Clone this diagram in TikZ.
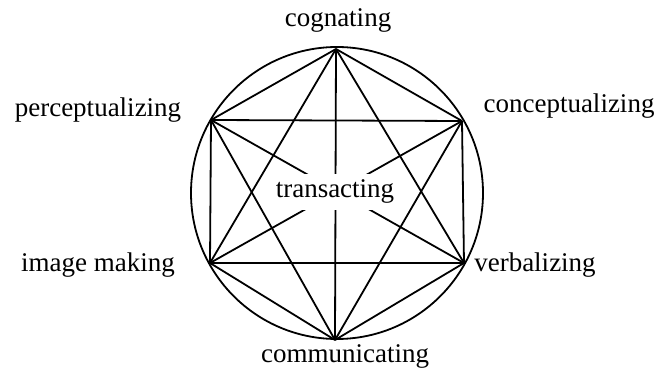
\documentclass[tikz,border=0pt]{standalone}
\usepackage{fontspec}
\setmainfont{Liberation Serif}
\begin{document}
\begin{tikzpicture}[x=0.5pt,y=-0.5pt,
  lbl/.style={font=\fontsize{13.5}{16}\selectfont, inner sep=0pt, anchor=base},
  edge/.style={line width=0.9pt, line join=round},
  ring/.style={line width=0.9pt}]
\useasboundingbox (0,0) rectangle (655,374);
% vertices
\coordinate (T) at (336,49);
\coordinate (B) at (335,340);
\coordinate (UL) at (211,120);
\coordinate (UR) at (462,121);
\coordinate (LL) at (210,263);
\coordinate (LR) at (464,263);
\coordinate (C) at (337,193);
% circle
\draw[ring] (C) circle[radius=73pt];
% edges (complete graph)
\draw[edge] (T) -- (UL);
\draw[edge] (T) -- (UR);
\draw[edge] (UL) -- (LL);
\draw[edge] (UR) -- (LR);
\draw[edge] (LL) -- (B);
\draw[edge] (LR) -- (B);
\draw[edge] (UL) -- (UR);
\draw[edge] (LL) -- (LR);
\draw[edge] (T) -- (B);
\draw[edge] (T) -- (LL);
\draw[edge] (T) -- (LR);
\draw[edge] (B) -- (UL);
\draw[edge] (B) -- (UR);
\draw[edge] (UL) -- (LR);
\draw[edge] (UR) -- (LL);
% labels
\node[lbl] (cog) at (338,27) {cognating};
\node[lbl] (per) at (98,117) {perceptualizing};
\node[lbl] (con) at (569,113) {conceptualizing};
\node[lbl] (img) at (98,272) {image making};
\node[lbl] (ver) at (535,272) {verbalizing};
\node[lbl] (com) at (345,363) {communicating};
\node[lbl, fill=white, inner xsep=2pt, inner ysep=3pt] (tra) at (335,198) {transacting};
\end{tikzpicture}
\end{document}
